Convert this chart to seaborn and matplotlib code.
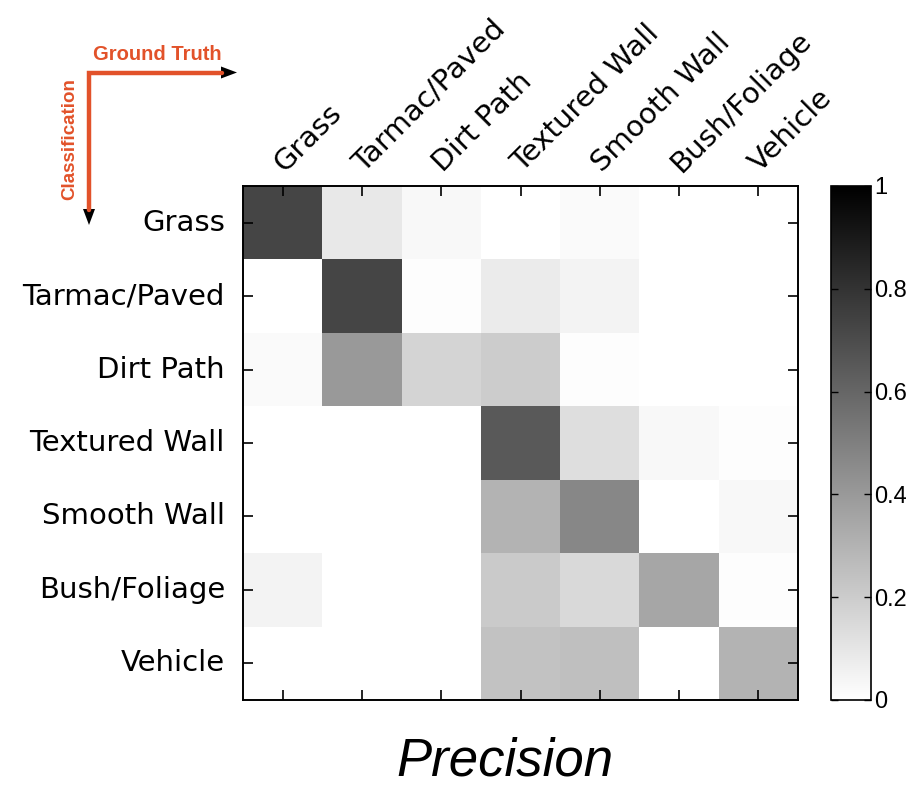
import numpy as np
import pandas as pd
import matplotlib
matplotlib.use("Agg")
import matplotlib.pyplot as plt
import matplotlib.transforms as mtransforms
from matplotlib.lines import Line2D
from matplotlib.patches import Polygon
import seaborn as sns

# Terrain classes (rows: classification, columns: ground truth)
classes = ["Grass", "Tarmac/Paved", "Dirt Path", "Textured Wall",
           "Smooth Wall", "Bush/Foliage", "Vehicle"]

grass_row    = [0.73, 0.09, 0.03, 0.00, 0.02, 0.00, 0.00]
tarmac_row   = [0.00, 0.73, 0.01, 0.08, 0.05, 0.00, 0.00]
dirt_row     = [0.02, 0.40, 0.17, 0.20, 0.01, 0.00, 0.00]
textured_row = [0.00, 0.00, 0.00, 0.65, 0.13, 0.03, 0.01]
smooth_row   = [0.00, 0.00, 0.00, 0.30, 0.47, 0.00, 0.03]
bush_row     = [0.05, 0.00, 0.00, 0.21, 0.15, 0.35, 0.01]
vehicle_row  = [0.00, 0.00, 0.00, 0.24, 0.25, 0.00, 0.30]

cbar_ticks = [0, 0.2, 0.4, 0.6, 0.8, 1]
cbar_labels = ["0", "0.2", "0.4", "0.6", "0.8", "1"]

precision = pd.DataFrame(
    [grass_row, tarmac_row, dirt_row, textured_row, smooth_row, bush_row, vehicle_row],
    index=classes, columns=classes,
)

sns.set_theme(style="white")
plt.rcParams["font.family"] = ["DejaVu Sans"]
plt.rcParams["text.color"] = "black"

W, H = 910, 787
fig = plt.figure(figsize=(W / 100, H / 100), dpi=100)


def fx(x):
    return x / W


def fy(y):
    return 1 - y / H


ax = fig.add_axes([fx(243), fy(700), fx(798) - fx(243), fy(186) - fy(700)])
cax = fig.add_axes([fx(831), fy(700), fx(871) - fx(831), fy(186) - fy(700)])

sns.heatmap(precision, ax=ax, cbar_ax=cax, cmap="gray_r", vmin=0, vmax=1,
            linewidths=0, cbar_kws={"ticks": cbar_ticks})

# Frame and inward ticks on all four sides, drawn over the cells
ax.set_axisbelow(False)
for side in ["left", "right", "top", "bottom"]:
    ax.spines[side].set_visible(True)
    ax.spines[side].set_color("black")
    ax.spines[side].set_linewidth(1.4)
    ax.spines[side].set_zorder(5)

ax.xaxis.tick_top()
ax.tick_params(axis="both", which="major", direction="in", length=7, width=1.2,
               color="black", top=True, bottom=True, left=True, right=True,
               labeltop=True, labelbottom=False, labelleft=True, labelright=False,
               labelcolor="black")
ax.tick_params(axis="x", pad=6)
ax.tick_params(axis="y", pad=13)
ax.set_xticklabels(classes, rotation=45, ha="left", va="bottom",
                   rotation_mode="anchor", fontsize=21)
ax.set_yticklabels(classes, rotation=0, fontsize=21)
ax.set_xlabel("")
ax.set_ylabel("")

shift = mtransforms.ScaledTranslation(6 / 100, 0, fig.dpi_scale_trans)
for lbl in ax.get_xticklabels():
    lbl.set_transform(lbl.get_transform() + shift)

# Colorbar styling
cbar = ax.collections[0].colorbar
cbar.outline.set_edgecolor("black")
cbar.outline.set_linewidth(1.2)
cax.set_axisbelow(False)
cax.yaxis.set_ticks_position("both")
cax.tick_params(direction="in", length=5, width=1, color="black", pad=2,
                left=True, right=True, labelleft=False, labelright=True,
                labelcolor="black")
cax.set_yticks(cbar_ticks)
cax.set_yticklabels(cbar_labels, fontsize=17, family="Liberation Sans")

# Title below the matrix
fig.text(fx(505), fy(762), "Precision", ha="center", va="center", color="black",
         fontsize=38, style="italic", family="Liberation Sans")

# Axis orientation key
orange = "#E2522A"
fig.add_artist(Line2D([fx(222), fx(89), fx(89)], [fy(72.5), fy(72.5), fy(210)],
                      transform=fig.transFigure, color=orange, lw=3.2,
                      solid_joinstyle="miter"))
fig.add_artist(Polygon([[fx(237), fy(72.5)], [fx(221), fy(66.5)], [fx(221), fy(78.5)]],
                       closed=True, transform=fig.transFigure, color="black", lw=0))
fig.add_artist(Polygon([[fx(89), fy(225)], [fx(83), fy(209)], [fx(95), fy(209)]],
                       closed=True, transform=fig.transFigure, color="black", lw=0))
fig.text(fx(157), fy(55), "Ground Truth", ha="center", va="center",
         fontsize=14.5, fontweight="bold", color=orange, family="Liberation Sans")
fig.text(fx(70), fy(139), "Classification", ha="center", va="center", rotation=90,
         fontsize=13.5, fontweight="bold", color=orange, family="Liberation Sans")

fig.savefig("out.png", dpi=100, facecolor="white")
